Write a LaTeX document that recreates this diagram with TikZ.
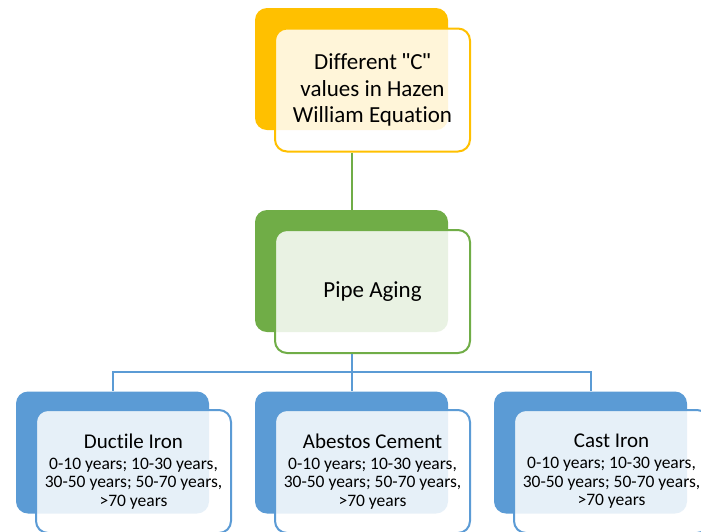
\documentclass[tikz,border=0pt]{standalone}
\usepackage{fontspec}
\setmainfont[Ligatures={ResetAll,NoCommon}]{Carlito}
\newfontfamily\quotefont{Liberation Sans}
\newcommand{\straightquote}{{\quotefont\char34}}
\begin{document}
\begin{tikzpicture}[x=1pt, y=-1pt,
  backbox/.style={rounded corners=12pt, minimum width=193pt, minimum height=122pt, inner sep=0pt},
  frontbox/.style={draw, line width=2pt, rounded corners=12pt, fill=white, fill opacity=0.85, text opacity=1,
    minimum width=195pt, minimum height=123pt, inner sep=0pt, align=center},
  link/.style={line width=2pt}]
\definecolor{MyOrange}{RGB}{255, 192, 0}
\definecolor{MyGreen}{RGB}{112, 173, 71}
\definecolor{MyBlue}{RGB}{91, 155, 213}
\useasboundingbox (0,0) rectangle (701,531);
\clip (0,0) rectangle (701,531);
% top box
\node[backbox, fill=MyOrange] (hazenback) at (351.5, 69) {};
\node[frontbox, draw=MyOrange, font=\fontsize{23}{26.5}\selectfont] (hazen) at (372.5, 90)
  {Different \straightquote C\straightquote\\values in Hazen\\William Equation};
% middle box
\node[backbox, fill=MyGreen] (agingback) at (351.5, 271) {};
\node[frontbox, draw=MyGreen, font=\fontsize{23}{26.5}\selectfont] (aging) at (372.5, 291.5) {Pipe Aging};
\draw[link, MyGreen] (hazenback.north |- hazen.south) -- (agingback.north);
% bottom boxes
\coordinate (fork) at (351.5, 372);
\draw[link, MyBlue] (agingback.north |- aging.south) -- (fork);
\foreach \name/\x/\title in {ductile/112.5/Ductile Iron, abestos/351.5/Abestos Cement, cast/590.5/Cast Iron}{
\node[backbox, fill=MyBlue] (\name back) at (\x, 452.5) {};
\node[frontbox, draw=MyBlue, font=\fontsize{17.5}{18.5}\selectfont] (\name) at (\x+21, 471.5)
  {{\fontsize{21}{24}\selectfont \title}\\[2.5pt]0-10 years; 10-30 years,\\30-50 years; 50-70 years,\\>70 years};
\draw[link, MyBlue] (fork) -| (\name back.north);
}
\end{tikzpicture}
\end{document}
